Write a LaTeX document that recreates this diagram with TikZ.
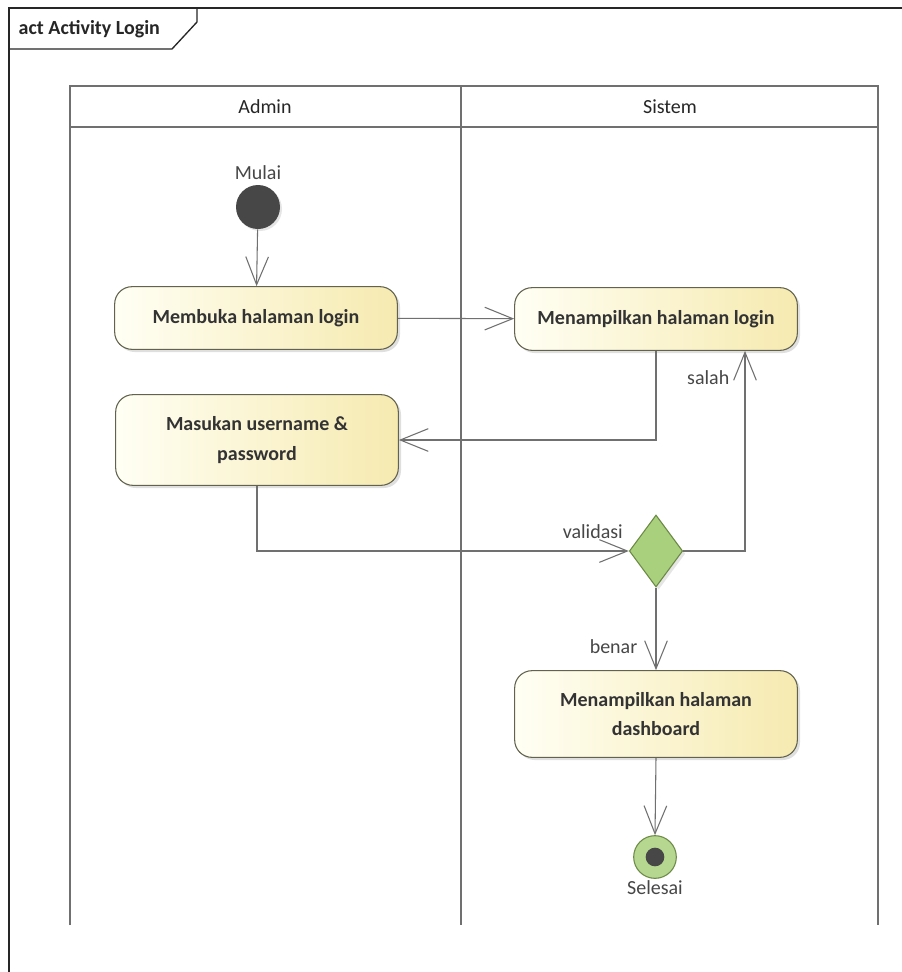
\documentclass[tikz,border=0pt]{standalone}
\usepackage{fontspec}
\setmainfont{Carlito}
\usetikzlibrary{arrows.meta,shapes.geometric,shadows,positioning}
\definecolor{actleft}{HTML}{FFFFF4}
\definecolor{actright}{HTML}{F6EAB0}
\definecolor{actline}{HTML}{62624E}
\definecolor{decfill}{HTML}{A9D07C}
\definecolor{decline}{HTML}{6C8A45}
\definecolor{laneline}{HTML}{707070}

\begin{document}
\begin{tikzpicture}
[x=0.75pt,y=-0.75pt,
 action/.style={rectangle,rounded corners=13pt,draw=actline,line width=0.8pt,
    left color=actleft,right color=actright,text=black!80,align=center,
    font=\bfseries\fontsize{15}{22}\selectfont,minimum width=212pt,
    drop shadow={opacity=0.25,shadow xshift=2pt,shadow yshift=-2pt}},
 decision/.style={diamond,draw=decline,line width=0.8pt,fill=decfill,inner sep=0pt,
    minimum width=40pt,minimum height=54pt,
    drop shadow={opacity=0.2,shadow xshift=2pt,shadow yshift=-2pt}},
 initial/.style={circle,fill=black!72,inner sep=0pt,minimum size=33pt,
    drop shadow={opacity=0.2,shadow xshift=1.5pt,shadow yshift=-1.5pt}},
 final/.style={circle,draw=decline,line width=0.8pt,fill=decfill!85,inner sep=0pt,
    minimum size=32pt,
    path picture={\fill[black!72] (path picture bounding box.center) circle (7pt);}},
 flow/.style={draw=laneline,line width=0.8pt,-{Straight Barb[length=21pt,width=17pt]}},
 lbl/.style={text=black!72,font=\fontsize{15}{18}\selectfont},
 lane/.style={draw=laneline,line width=1.2pt}]
\clip (0,0) rectangle (902,972);
\fill[white] (0,0) rectangle (902,972);

% frame
\draw[black!85,line width=1.2pt] (9,8) rectangle (920,990);
\draw[black!85,line width=1pt] (9,49) -- (172,49) -- (197,22) -- (197,8);
\node[anchor=west,font=\bfseries\fontsize{15}{18}\selectfont,text=black!85] (frametitle) at (14,29) {act Activity Login};

% swimlanes
\draw[lane] (70,925) -- (70,86) -- (878,86) -- (878,925);
\draw[lane] (461,86) -- (461,925);
\draw[lane] (70,127) -- (878,127);
\node[lbl,text=black!85] (admin) at (265,107) {Admin};
\node[lbl,text=black!85] (sistem) at (670,107) {Sistem};

% nodes
\node[initial] (start) at (258,207) [label={[lbl]above:Mulai}] {};
\node[action,minimum height=47pt] (buka) at (256,318) {Membuka halaman login};
\node[action,minimum height=47pt] (tampil) at (656,319) {Menampilkan halaman login};
\node[action,minimum height=68pt] (masuk) at (257,440) {Masukan username \&\\password};
\node[decision] (cek) at (656,551) {};
\node[action,minimum height=65pt] (dash) at (656,714) {Menampilkan halaman\\dashboard};
\node[final] (selesai) at (655,857) [label={[lbl,yshift=2pt]below:Selesai}] {};

% connectors
\draw[flow] (start) -- (buka);
\draw[flow] (buka) -- (tampil);
\draw[flow] (tampil.south) |- (masuk.east);
\draw[flow] (masuk.south) |- (cek.west);
\node[lbl,anchor=south east] (validasi) at ([xshift=-1pt,yshift=6pt]cek.west) {validasi};
\draw[flow] (cek.east) -| ([xshift=66.75pt]tampil.south);
\node[lbl,anchor=east] (salah) at (734,378) {salah};
\draw[flow] (cek.south) -- (dash.north);
\node[lbl,anchor=east] (benar) at (642,647) {benar};
\draw[flow] (dash.south) -- (selesai.north);
\end{tikzpicture}
\end{document}
